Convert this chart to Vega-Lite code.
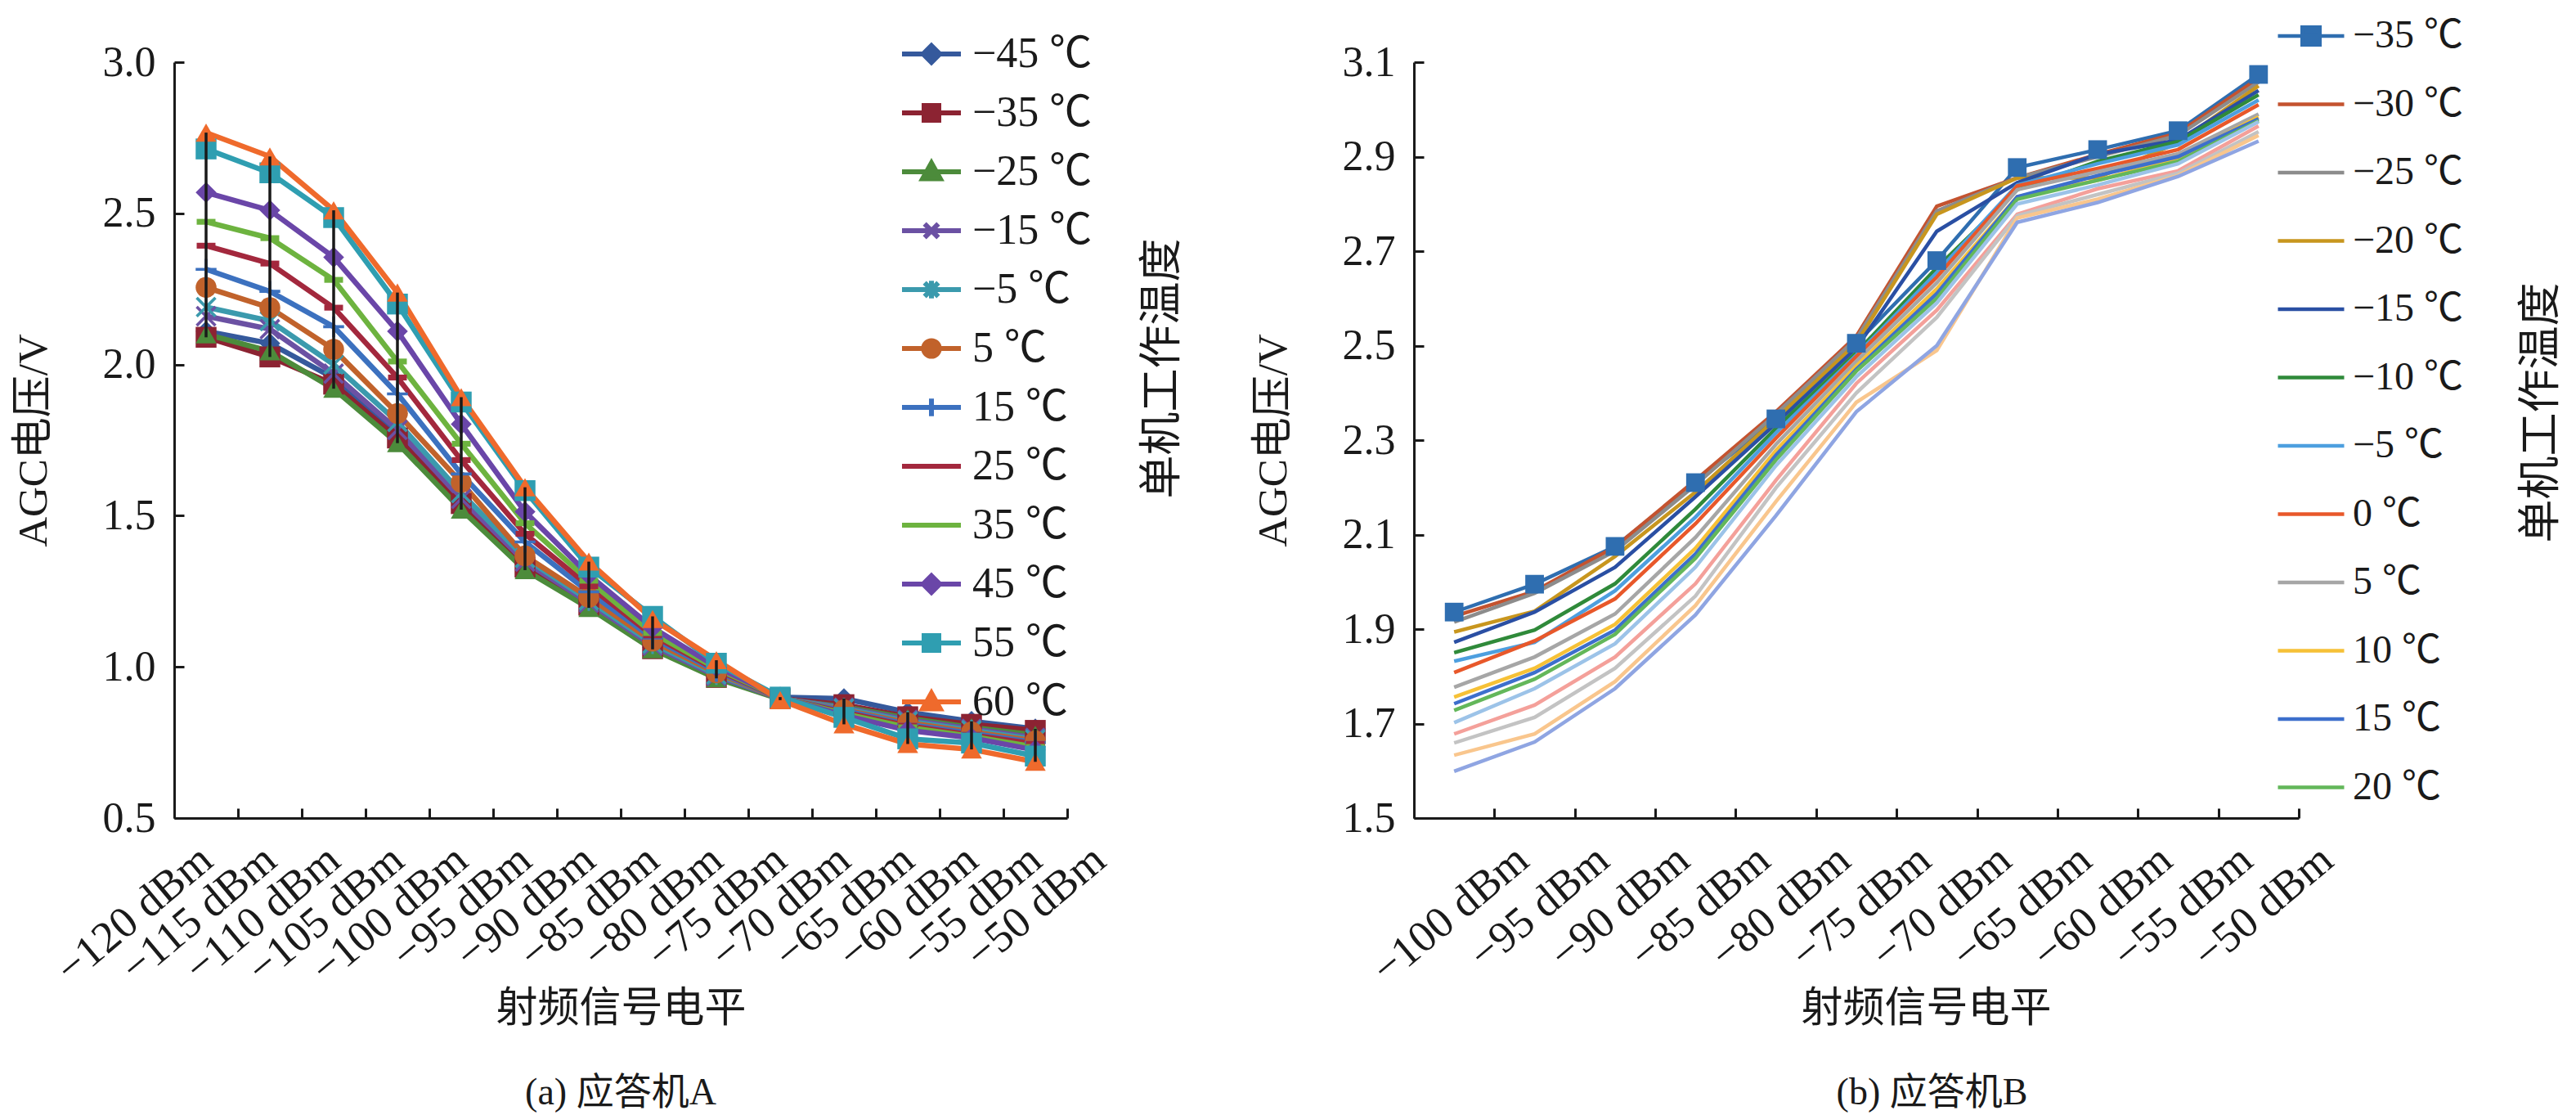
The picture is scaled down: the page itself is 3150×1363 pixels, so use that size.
{
  "$schema": "https://vega.github.io/schema/vega-lite/v6.json",
  "background": "white",
  "padding": {"left": 15, "top": 20, "right": 5, "bottom": 5},
  "spacing": 83,
  "resolve": {"scale": {"color": "independent", "shape": "independent"}, "legend": {"color": "independent", "shape": "independent"}},
  "config": {
    "view": {"stroke": null},
    "font": "Liberation Serif, Noto Sans CJK SC",
    "axis": {
      "domainColor": "#1a1a1a", "domainWidth": 3, "tickColor": "#1a1a1a", "tickWidth": 3, "tickSize": -12,
      "labelFont": "Liberation Serif, Noto Sans CJK SC", "labelFontSize": 52, "labelColor": "#1a1a1a", "labelPadding": 35, "labelLimit": 0,
      "titleFont": "Liberation Serif, Noto Sans CJK SC", "titleFontSize": 51, "titleFontWeight": "normal", "titleColor": "#1a1a1a",
      "grid": false
    },
    "legend": {"labelFont": "Liberation Serif, Noto Sans CJK SC", "labelColor": "#1a1a1a", "labelLimit": 0},
    "title": {"font": "Liberation Serif, Noto Sans CJK SC", "fontSize": 46, "fontWeight": "normal", "color": "#1a1a1a"}
  },
  "hconcat": [
    {
      "width": 1092,
      "height": 924,
      "title": {"text": "(a) 应答机A", "orient": "bottom", "anchor": "middle", "frame": "group", "offset": 56},
      "data": {"values": [
        {"t":"−45 ℃","x":-120,"v":2.11},{"t":"−45 ℃","x":-115,"v":2.07},{"t":"−45 ℃","x":-110,"v":1.955},{"t":"−45 ℃","x":-105,"v":1.765},{"t":"−45 ℃","x":-100,"v":1.548},{"t":"−45 ℃","x":-95,"v":1.34},{"t":"−45 ℃","x":-90,"v":1.21},{"t":"−45 ℃","x":-85,"v":1.065},{"t":"−45 ℃","x":-80,"v":0.97},{"t":"−45 ℃","x":-75,"v":0.9},{"t":"−45 ℃","x":-70,"v":0.895},{"t":"−45 ℃","x":-65,"v":0.85},{"t":"−45 ℃","x":-60,"v":0.82},{"t":"−45 ℃","x":-55,"v":0.795},
        {"t":"−35 ℃","x":-120,"v":2.09},{"t":"−35 ℃","x":-115,"v":2.025},{"t":"−35 ℃","x":-110,"v":1.935},{"t":"−35 ℃","x":-105,"v":1.757},{"t":"−35 ℃","x":-100,"v":1.54},{"t":"−35 ℃","x":-95,"v":1.33},{"t":"−35 ℃","x":-90,"v":1.204},{"t":"−35 ℃","x":-85,"v":1.06},{"t":"−35 ℃","x":-80,"v":0.965},{"t":"−35 ℃","x":-75,"v":0.895},{"t":"−35 ℃","x":-70,"v":0.875},{"t":"−35 ℃","x":-65,"v":0.835},{"t":"−35 ℃","x":-60,"v":0.81},{"t":"−35 ℃","x":-55,"v":0.79},
        {"t":"−25 ℃","x":-120,"v":2.1},{"t":"−25 ℃","x":-115,"v":2.044},{"t":"−25 ℃","x":-110,"v":1.92},{"t":"−25 ℃","x":-105,"v":1.74},{"t":"−25 ℃","x":-100,"v":1.52},{"t":"−25 ℃","x":-95,"v":1.32},{"t":"−25 ℃","x":-90,"v":1.195},{"t":"−25 ℃","x":-85,"v":1.058},{"t":"−25 ℃","x":-80,"v":0.962},{"t":"−25 ℃","x":-75,"v":0.893},{"t":"−25 ℃","x":-70,"v":0.868},{"t":"−25 ℃","x":-65,"v":0.83},{"t":"−25 ℃","x":-60,"v":0.8},{"t":"−25 ℃","x":-55,"v":0.775},
        {"t":"−15 ℃","x":-120,"v":2.16},{"t":"−15 ℃","x":-115,"v":2.117},{"t":"−15 ℃","x":-110,"v":1.97},{"t":"−15 ℃","x":-105,"v":1.784},{"t":"−15 ℃","x":-100,"v":1.556},{"t":"−15 ℃","x":-95,"v":1.348},{"t":"−15 ℃","x":-90,"v":1.212},{"t":"−15 ℃","x":-85,"v":1.07},{"t":"−15 ℃","x":-80,"v":0.97},{"t":"−15 ℃","x":-75,"v":0.895},{"t":"−15 ℃","x":-70,"v":0.865},{"t":"−15 ℃","x":-65,"v":0.825},{"t":"−15 ℃","x":-60,"v":0.795},{"t":"−15 ℃","x":-55,"v":0.765},
        {"t":"−5 ℃","x":-120,"v":2.19},{"t":"−5 ℃","x":-115,"v":2.144},{"t":"−5 ℃","x":-110,"v":2.0},{"t":"−5 ℃","x":-105,"v":1.81},{"t":"−5 ℃","x":-100,"v":1.575},{"t":"−5 ℃","x":-95,"v":1.36},{"t":"−5 ℃","x":-90,"v":1.22},{"t":"−5 ℃","x":-85,"v":1.077},{"t":"−5 ℃","x":-80,"v":0.975},{"t":"−5 ℃","x":-75,"v":0.896},{"t":"−5 ℃","x":-70,"v":0.862},{"t":"−5 ℃","x":-65,"v":0.82},{"t":"−5 ℃","x":-60,"v":0.79},{"t":"−5 ℃","x":-55,"v":0.76},
        {"t":"5 ℃","x":-120,"v":2.255},{"t":"5 ℃","x":-115,"v":2.188},{"t":"5 ℃","x":-110,"v":2.05},{"t":"5 ℃","x":-105,"v":1.838},{"t":"5 ℃","x":-100,"v":1.61},{"t":"5 ℃","x":-95,"v":1.367},{"t":"5 ℃","x":-90,"v":1.23},{"t":"5 ℃","x":-85,"v":1.085},{"t":"5 ℃","x":-80,"v":0.98},{"t":"5 ℃","x":-75,"v":0.895},{"t":"5 ℃","x":-70,"v":0.858},{"t":"5 ℃","x":-65,"v":0.815},{"t":"5 ℃","x":-60,"v":0.785},{"t":"5 ℃","x":-55,"v":0.755},
        {"t":"15 ℃","x":-120,"v":2.315},{"t":"15 ℃","x":-115,"v":2.242},{"t":"15 ℃","x":-110,"v":2.125},{"t":"15 ℃","x":-105,"v":1.903},{"t":"15 ℃","x":-100,"v":1.638},{"t":"15 ℃","x":-95,"v":1.413},{"t":"15 ℃","x":-90,"v":1.248},{"t":"15 ℃","x":-85,"v":1.095},{"t":"15 ℃","x":-80,"v":0.985},{"t":"15 ℃","x":-75,"v":0.896},{"t":"15 ℃","x":-70,"v":0.855},{"t":"15 ℃","x":-65,"v":0.81},{"t":"15 ℃","x":-60,"v":0.78},{"t":"15 ℃","x":-55,"v":0.75},
        {"t":"25 ℃","x":-120,"v":2.393},{"t":"25 ℃","x":-115,"v":2.334},{"t":"25 ℃","x":-110,"v":2.188},{"t":"25 ℃","x":-105,"v":1.957},{"t":"25 ℃","x":-100,"v":1.684},{"t":"25 ℃","x":-95,"v":1.44},{"t":"25 ℃","x":-90,"v":1.267},{"t":"25 ℃","x":-85,"v":1.104},{"t":"25 ℃","x":-80,"v":0.99},{"t":"25 ℃","x":-75,"v":0.897},{"t":"25 ℃","x":-70,"v":0.85},{"t":"25 ℃","x":-65,"v":0.805},{"t":"25 ℃","x":-60,"v":0.775},{"t":"25 ℃","x":-55,"v":0.745},
        {"t":"35 ℃","x":-120,"v":2.472},{"t":"35 ℃","x":-115,"v":2.418},{"t":"35 ℃","x":-110,"v":2.28},{"t":"35 ℃","x":-105,"v":2.01},{"t":"35 ℃","x":-100,"v":1.738},{"t":"35 ℃","x":-95,"v":1.475},{"t":"35 ℃","x":-90,"v":1.285},{"t":"35 ℃","x":-85,"v":1.112},{"t":"35 ℃","x":-80,"v":0.995},{"t":"35 ℃","x":-75,"v":0.898},{"t":"35 ℃","x":-70,"v":0.845},{"t":"35 ℃","x":-65,"v":0.8},{"t":"35 ℃","x":-60,"v":0.77},{"t":"35 ℃","x":-55,"v":0.735},
        {"t":"45 ℃","x":-120,"v":2.569},{"t":"45 ℃","x":-115,"v":2.51},{"t":"45 ℃","x":-110,"v":2.355},{"t":"45 ℃","x":-105,"v":2.11},{"t":"45 ℃","x":-100,"v":1.803},{"t":"45 ℃","x":-95,"v":1.513},{"t":"45 ℃","x":-90,"v":1.304},{"t":"45 ℃","x":-85,"v":1.13},{"t":"45 ℃","x":-80,"v":1.0},{"t":"45 ℃","x":-75,"v":0.899},{"t":"45 ℃","x":-70,"v":0.84},{"t":"45 ℃","x":-65,"v":0.79},{"t":"45 ℃","x":-60,"v":0.765},{"t":"45 ℃","x":-55,"v":0.725},
        {"t":"55 ℃","x":-120,"v":2.713},{"t":"55 ℃","x":-115,"v":2.634},{"t":"55 ℃","x":-110,"v":2.486},{"t":"55 ℃","x":-105,"v":2.2},{"t":"55 ℃","x":-100,"v":1.876},{"t":"55 ℃","x":-95,"v":1.583},{"t":"55 ℃","x":-90,"v":1.33},{"t":"55 ℃","x":-85,"v":1.167},{"t":"55 ℃","x":-80,"v":1.012},{"t":"55 ℃","x":-75,"v":0.9},{"t":"55 ℃","x":-70,"v":0.833},{"t":"55 ℃","x":-65,"v":0.762},{"t":"55 ℃","x":-60,"v":0.748},{"t":"55 ℃","x":-55,"v":0.705},
        {"t":"60 ℃","x":-120,"v":2.767},{"t":"60 ℃","x":-115,"v":2.688},{"t":"60 ℃","x":-110,"v":2.51},{"t":"60 ℃","x":-105,"v":2.238},{"t":"60 ℃","x":-100,"v":1.892},{"t":"60 ℃","x":-95,"v":1.594},{"t":"60 ℃","x":-90,"v":1.348},{"t":"60 ℃","x":-85,"v":1.158},{"t":"60 ℃","x":-80,"v":1.022},{"t":"60 ℃","x":-75,"v":0.89},{"t":"60 ℃","x":-70,"v":0.81},{"t":"60 ℃","x":-65,"v":0.745},{"t":"60 ℃","x":-60,"v":0.727},{"t":"60 ℃","x":-55,"v":0.686}
      ]},
      "layer": [
        {
          "mark": {"type": "line", "strokeWidth": 6.5},
          "encoding": {
            "x": {
              "field": "x", "type": "quantitative",
              "scale": {"domain": [-122.5, -52.5], "nice": false, "zero": false},
              "axis": {
                "values": [-122.5, -117.5, -112.5, -107.5, -102.5, -97.5, -92.5, -87.5, -82.5, -77.5, -72.5, -67.5, -62.5, -57.5, -52.5],
                "labelExpr": "'−' + format(-2.5 - datum.value, 'd') + ' dBm'",
                "labelAngle": -40, "labelAlign": "right", "labelBaseline": "top", "labelOffset": 22,
                "labelOverlap": false, "labelFlush": false, "labelBound": false, "labelFontSize": 54,
                "title": "射频信号电平", "titlePadding": 8
              }
            },
            "y": {
              "field": "v", "type": "quantitative",
              "scale": {"domain": [0.5, 3.0], "nice": false, "zero": false},
              "axis": {"orient": "left", "values": [0.5, 1.0, 1.5, 2.0, 2.5, 3.0], "format": ".1f", "title": "AGC电压/V", "titlePadding": 58}
            },
            "color": {
              "field": "t", "type": "nominal",
              "scale": {
                "domain": ["−45 ℃", "−35 ℃", "−25 ℃", "−15 ℃", "−5 ℃", "5 ℃", "15 ℃", "25 ℃", "35 ℃", "45 ℃", "55 ℃", "60 ℃"],
                "range": ["#35599C", "#8C2332", "#4C8B3B", "#6B51A3", "#3B9AAD", "#C1622B", "#3C71BF", "#A3283D", "#6DB33F", "#6A46A8", "#2F9EB1", "#EF6A2C"]
              },
              "legend": {
                "orient": "none", "legendX": 924, "legendY": -36, "title": null, "padding": 0,
                "symbolSize": 576, "symbolStrokeWidth": 6, "labelFontSize": 52, "labelOffset": 0, "rowPadding": 20,
                "encode": {"symbols": {"update": {
                  "shape": {"signal": "['M-5,0H1M-2,-0.85L-1.15,0L-2,0.85L-2.85,0Z','M-5,0H1M-2.75,-0.75H-1.25V0.75H-2.75Z','M-5,0H1M-2,-0.9L-1.1,0.7H-2.9Z','M-5,0H1M-2.7,-0.7L-1.3,0.7M-2.7,0.7L-1.3,-0.7','M-5,0H1M-2.7,-0.7L-1.3,0.7M-2.7,0.7L-1.3,-0.7M-2,-0.9V0.9','M-5,0H1M-2.8,0A0.8,0.8,0,1,1,-1.2,0A0.8,0.8,0,1,1,-2.8,0Z','M-5,0H1M-2,-0.9V0.9','M-5,0H1','M-5,0H1','M-5,0H1M-2,-0.85L-1.15,0L-2,0.85L-2.85,0Z','M-5,0H1M-2.75,-0.75H-1.25V0.75H-2.75Z','M-5,0H1M-2,-0.9L-1.1,0.7H-2.9Z'][indexof(['−45 ℃','−35 ℃','−25 ℃','−15 ℃','−5 ℃','5 ℃','15 ℃','25 ℃','35 ℃','45 ℃','55 ℃','60 ℃'], datum.value)]"},
                  "fill": {"signal": "['#35599C','#8C2332','#4C8B3B','#6B51A3','#3B9AAD','#C1622B','#3C71BF','#A3283D','#6DB33F','#6A46A8','#2F9EB1','#EF6A2C'][indexof(['−45 ℃','−35 ℃','−25 ℃','−15 ℃','−5 ℃','5 ℃','15 ℃','25 ℃','35 ℃','45 ℃','55 ℃','60 ℃'], datum.value)]"},
                  "stroke": {"signal": "['#35599C','#8C2332','#4C8B3B','#6B51A3','#3B9AAD','#C1622B','#3C71BF','#A3283D','#6DB33F','#6A46A8','#2F9EB1','#EF6A2C'][indexof(['−45 ℃','−35 ℃','−25 ℃','−15 ℃','−5 ℃','5 ℃','15 ℃','25 ℃','35 ℃','45 ℃','55 ℃','60 ℃'], datum.value)]"},
                  "size": {"value": 576},
                  "strokeWidth": {"value": 6},
                  "opacity": {"value": 1}
                }}}
              }
            }
          }
        },
        {
          "transform": [{"calculate": "datum.t", "as": "marker"}],
          "mark": {"type": "point", "filled": true, "opacity": 1, "size": 650, "strokeWidth": 0},
          "encoding": {
            "x": {"field": "x", "type": "quantitative"},
            "y": {"field": "v", "type": "quantitative", "axis": null},
            "color": {"field": "t", "type": "nominal"},
            "shape": {
              "field": "marker", "type": "nominal", "legend": null, "sort": null,
              "scale": {
                "range": [
                  "diamond", "square", "triangle-up",
                  "M-1,-0.8L-0.8,-1L0,-0.2L0.8,-1L1,-0.8L0.2,0L1,0.8L0.8,1L0,0.2L-0.8,1L-1,0.8L-0.2,0Z",
                  "M-1,-0.8L-0.8,-1L0,-0.2L0.8,-1L1,-0.8L0.2,0L1,0.8L0.8,1L0,0.2L-0.8,1L-1,0.8L-0.2,0ZM-0.12,-1H0.12V1H-0.12Z",
                  "circle",
                  "M-0.14,-1H0.14V-0.14H1V0.14H0.14V1H-0.14V0.14H-1V-0.14H-0.14Z",
                  "M-0.9,-0.28H0.9V0.28H-0.9Z",
                  "M-0.9,-0.28H0.9V0.28H-0.9Z",
                  "diamond", "square", "triangle-up"
                ]
              }
            }
          }
        },
        {
          "mark": {"type": "rule", "color": "#1a1a1a", "strokeWidth": 3.5},
          "encoding": {
            "x": {"field": "x", "type": "quantitative"},
            "y": {
              "aggregate": "min", "field": "v", "type": "quantitative",
              "axis": {"orient": "right", "title": "单机工作温度", "labels": false, "ticks": false, "domain": false,
                       "titleAngle": 270, "titleBaseline": "top", "titleAlign": "center", "titleY": 374, "titlePadding": 90, "titleFontSize": 53}
            },
            "y2": {"aggregate": "max", "field": "v"}
          }
        }
      ],
      "resolve": {"axis": {"y": "independent"}}
    },
    {
      "width": 1082,
      "height": 924,
      "title": {"text": "(b) 应答机B", "orient": "bottom", "anchor": "middle", "frame": "bounds", "offset": 56, "dx": 30},
      "data": {"values": [
        {"t":"−35 ℃","x":-100,"v":1.936},{"t":"−35 ℃","x":-95,"v":1.995},{"t":"−35 ℃","x":-90,"v":2.075},{"t":"−35 ℃","x":-85,"v":2.21},{"t":"−35 ℃","x":-80,"v":2.345},{"t":"−35 ℃","x":-75,"v":2.505},{"t":"−35 ℃","x":-70,"v":2.68},{"t":"−35 ℃","x":-65,"v":2.877},{"t":"−35 ℃","x":-60,"v":2.915},{"t":"−35 ℃","x":-55,"v":2.955},{"t":"−35 ℃","x":-50,"v":3.074},
        {"t":"−30 ℃","x":-100,"v":1.927},{"t":"−30 ℃","x":-95,"v":1.98},{"t":"−30 ℃","x":-90,"v":2.074},{"t":"−30 ℃","x":-85,"v":2.215},{"t":"−30 ℃","x":-80,"v":2.36},{"t":"−30 ℃","x":-75,"v":2.52},{"t":"−30 ℃","x":-70,"v":2.795},{"t":"−30 ℃","x":-65,"v":2.855},{"t":"−30 ℃","x":-60,"v":2.905},{"t":"−30 ℃","x":-55,"v":2.95},{"t":"−30 ℃","x":-50,"v":3.066},
        {"t":"−25 ℃","x":-100,"v":1.915},{"t":"−25 ℃","x":-95,"v":1.976},{"t":"−25 ℃","x":-90,"v":2.065},{"t":"−25 ℃","x":-85,"v":2.205},{"t":"−25 ℃","x":-80,"v":2.355},{"t":"−25 ℃","x":-75,"v":2.515},{"t":"−25 ℃","x":-70,"v":2.785},{"t":"−25 ℃","x":-65,"v":2.855},{"t":"−25 ℃","x":-60,"v":2.9},{"t":"−25 ℃","x":-55,"v":2.945},{"t":"−25 ℃","x":-50,"v":3.058},
        {"t":"−20 ℃","x":-100,"v":1.894},{"t":"−20 ℃","x":-95,"v":1.938},{"t":"−20 ℃","x":-90,"v":2.054},{"t":"−20 ℃","x":-85,"v":2.19},{"t":"−20 ℃","x":-80,"v":2.345},{"t":"−20 ℃","x":-75,"v":2.505},{"t":"−20 ℃","x":-70,"v":2.778},{"t":"−20 ℃","x":-65,"v":2.855},{"t":"−20 ℃","x":-60,"v":2.855},{"t":"−20 ℃","x":-55,"v":2.93},{"t":"−20 ℃","x":-50,"v":3.05},
        {"t":"−15 ℃","x":-100,"v":1.872},{"t":"−15 ℃","x":-95,"v":1.936},{"t":"−15 ℃","x":-90,"v":2.031},{"t":"−15 ℃","x":-85,"v":2.18},{"t":"−15 ℃","x":-80,"v":2.335},{"t":"−15 ℃","x":-75,"v":2.495},{"t":"−15 ℃","x":-70,"v":2.742},{"t":"−15 ℃","x":-65,"v":2.845},{"t":"−15 ℃","x":-60,"v":2.905},{"t":"−15 ℃","x":-55,"v":2.935},{"t":"−15 ℃","x":-50,"v":3.04},
        {"t":"−10 ℃","x":-100,"v":1.85},{"t":"−10 ℃","x":-95,"v":1.898},{"t":"−10 ℃","x":-90,"v":1.996},{"t":"−10 ℃","x":-85,"v":2.154},{"t":"−10 ℃","x":-80,"v":2.325},{"t":"−10 ℃","x":-75,"v":2.485},{"t":"−10 ℃","x":-70,"v":2.665},{"t":"−10 ℃","x":-65,"v":2.83},{"t":"−10 ℃","x":-60,"v":2.89},{"t":"−10 ℃","x":-55,"v":2.932},{"t":"−10 ℃","x":-50,"v":3.031},
        {"t":"−5 ℃","x":-100,"v":1.832},{"t":"−5 ℃","x":-95,"v":1.872},{"t":"−5 ℃","x":-90,"v":1.981},{"t":"−5 ℃","x":-85,"v":2.137},{"t":"−5 ℃","x":-80,"v":2.315},{"t":"−5 ℃","x":-75,"v":2.48},{"t":"−5 ℃","x":-70,"v":2.655},{"t":"−5 ℃","x":-65,"v":2.84},{"t":"−5 ℃","x":-60,"v":2.885},{"t":"−5 ℃","x":-55,"v":2.925},{"t":"−5 ℃","x":-50,"v":3.02},
        {"t":"0 ℃","x":-100,"v":1.808},{"t":"0 ℃","x":-95,"v":1.875},{"t":"0 ℃","x":-90,"v":1.964},{"t":"0 ℃","x":-85,"v":2.123},{"t":"0 ℃","x":-80,"v":2.304},{"t":"0 ℃","x":-75,"v":2.477},{"t":"0 ℃","x":-70,"v":2.645},{"t":"0 ℃","x":-65,"v":2.838},{"t":"0 ℃","x":-60,"v":2.875},{"t":"0 ℃","x":-55,"v":2.915},{"t":"0 ℃","x":-50,"v":3.01},
        {"t":"5 ℃","x":-100,"v":1.777},{"t":"5 ℃","x":-95,"v":1.841},{"t":"5 ℃","x":-90,"v":1.932},{"t":"5 ℃","x":-85,"v":2.094},{"t":"5 ℃","x":-80,"v":2.291},{"t":"5 ℃","x":-75,"v":2.467},{"t":"5 ℃","x":-70,"v":2.633},{"t":"5 ℃","x":-65,"v":2.83},{"t":"5 ℃","x":-60,"v":2.868},{"t":"5 ℃","x":-55,"v":2.906},{"t":"5 ℃","x":-50,"v":2.99},
        {"t":"10 ℃","x":-100,"v":1.756},{"t":"10 ℃","x":-95,"v":1.817},{"t":"10 ℃","x":-90,"v":1.91},{"t":"10 ℃","x":-85,"v":2.071},{"t":"10 ℃","x":-80,"v":2.278},{"t":"10 ℃","x":-75,"v":2.457},{"t":"10 ℃","x":-70,"v":2.62},{"t":"10 ℃","x":-65,"v":2.815},{"t":"10 ℃","x":-60,"v":2.85},{"t":"10 ℃","x":-55,"v":2.896},{"t":"10 ℃","x":-50,"v":2.984},
        {"t":"15 ℃","x":-100,"v":1.742},{"t":"15 ℃","x":-95,"v":1.808},{"t":"15 ℃","x":-90,"v":1.898},{"t":"15 ℃","x":-85,"v":2.059},{"t":"15 ℃","x":-80,"v":2.268},{"t":"15 ℃","x":-75,"v":2.45},{"t":"15 ℃","x":-70,"v":2.61},{"t":"15 ℃","x":-65,"v":2.815},{"t":"15 ℃","x":-60,"v":2.86},{"t":"15 ℃","x":-55,"v":2.9},{"t":"15 ℃","x":-50,"v":2.98},
        {"t":"20 ℃","x":-100,"v":1.728},{"t":"20 ℃","x":-95,"v":1.794},{"t":"20 ℃","x":-90,"v":1.889},{"t":"20 ℃","x":-85,"v":2.05},{"t":"20 ℃","x":-80,"v":2.258},{"t":"20 ℃","x":-75,"v":2.446},{"t":"20 ℃","x":-70,"v":2.6},{"t":"20 ℃","x":-65,"v":2.81},{"t":"20 ℃","x":-60,"v":2.85},{"t":"20 ℃","x":-55,"v":2.89},{"t":"20 ℃","x":-50,"v":2.976},
        {"t":"25 ℃","x":-100,"v":1.702},{"t":"25 ℃","x":-95,"v":1.774},{"t":"25 ℃","x":-90,"v":1.869},{"t":"25 ℃","x":-85,"v":2.031},{"t":"25 ℃","x":-80,"v":2.246},{"t":"25 ℃","x":-75,"v":2.434},{"t":"25 ℃","x":-70,"v":2.59},{"t":"25 ℃","x":-65,"v":2.8},{"t":"25 ℃","x":-60,"v":2.84},{"t":"25 ℃","x":-55,"v":2.885},{"t":"25 ℃","x":-50,"v":2.974},
        {"t":"30 ℃","x":-100,"v":1.678},{"t":"30 ℃","x":-95,"v":1.739},{"t":"30 ℃","x":-90,"v":1.841},{"t":"30 ℃","x":-85,"v":1.996},{"t":"30 ℃","x":-80,"v":2.215},{"t":"30 ℃","x":-75,"v":2.42},{"t":"30 ℃","x":-70,"v":2.575},{"t":"30 ℃","x":-65,"v":2.778},{"t":"30 ℃","x":-60,"v":2.832},{"t":"30 ℃","x":-55,"v":2.87},{"t":"30 ℃","x":-50,"v":2.965},
        {"t":"35 ℃","x":-100,"v":1.659},{"t":"35 ℃","x":-95,"v":1.713},{"t":"35 ℃","x":-90,"v":1.817},{"t":"35 ℃","x":-85,"v":1.97},{"t":"35 ℃","x":-80,"v":2.199},{"t":"35 ℃","x":-75,"v":2.4},{"t":"35 ℃","x":-70,"v":2.56},{"t":"35 ℃","x":-65,"v":2.775},{"t":"35 ℃","x":-60,"v":2.82},{"t":"35 ℃","x":-55,"v":2.865},{"t":"35 ℃","x":-50,"v":2.953},
        {"t":"40 ℃","x":-100,"v":1.633},{"t":"40 ℃","x":-95,"v":1.678},{"t":"40 ℃","x":-90,"v":1.789},{"t":"40 ℃","x":-85,"v":1.95},{"t":"40 ℃","x":-80,"v":2.17},{"t":"40 ℃","x":-75,"v":2.38},{"t":"40 ℃","x":-70,"v":2.49},{"t":"40 ℃","x":-65,"v":2.77},{"t":"40 ℃","x":-60,"v":2.81},{"t":"40 ℃","x":-55,"v":2.86},{"t":"40 ℃","x":-50,"v":2.945},
        {"t":"45 ℃","x":-100,"v":1.599},{"t":"45 ℃","x":-95,"v":1.661},{"t":"45 ℃","x":-90,"v":1.774},{"t":"45 ℃","x":-85,"v":1.93},{"t":"45 ℃","x":-80,"v":2.14},{"t":"45 ℃","x":-75,"v":2.36},{"t":"45 ℃","x":-70,"v":2.5},{"t":"45 ℃","x":-65,"v":2.761},{"t":"45 ℃","x":-60,"v":2.803},{"t":"45 ℃","x":-55,"v":2.858},{"t":"45 ℃","x":-50,"v":2.933}
      ]},
      "layer": [
        {
          "mark": {"type": "line", "strokeWidth": 4.5},
          "encoding": {
            "x": {
              "field": "x", "type": "quantitative",
              "scale": {"domain": [-102.5, -47.5], "nice": false, "zero": false},
              "axis": {
                "values": [-102.5, -97.5, -92.5, -87.5, -82.5, -77.5, -72.5, -67.5, -62.5, -57.5, -52.5, -47.5],
                "labelExpr": "datum.value < -100 ? '' : '−' + format(2.5 - datum.value, 'd') + ' dBm'",
                "labelAngle": -40, "labelAlign": "right", "labelBaseline": "top", "labelOffset": 17,
                "labelOverlap": false, "labelFlush": false, "labelBound": false, "labelFontSize": 54,
                "title": "射频信号电平", "titlePadding": 8, "titleX": 626
              }
            },
            "y": {
              "field": "v", "type": "quantitative",
              "scale": {"domain": [1.5, 3.1], "nice": false, "zero": false},
              "axis": {"orient": "left", "values": [1.5, 1.7, 1.9, 2.1, 2.3, 2.5, 2.7, 2.9, 3.1], "format": ".1f", "title": "AGC电压/V", "titlePadding": 58}
            },
            "color": {
              "field": "t", "type": "nominal",
              "scale": {
                "domain": ["−35 ℃", "−30 ℃", "−25 ℃", "−20 ℃", "−15 ℃", "−10 ℃", "−5 ℃", "0 ℃", "5 ℃", "10 ℃", "15 ℃", "20 ℃", "25 ℃", "30 ℃", "35 ℃", "40 ℃", "45 ℃"],
                "range": ["#2F6EB0", "#C4532F", "#8C8C8C", "#C8961E", "#2A4FA3", "#2F8A3A", "#4D9FDF", "#E8582A", "#A6A6A6", "#F6C137", "#3D6FCC", "#63B75A", "#9CC3E8", "#F4A09A", "#C3C3C3", "#F9C68D", "#8FA5E2"]
              },
              "legend": {
                "orient": "none", "legendX": 1100, "legendY": -56, "title": null, "padding": 0,
                "values": ["−35 ℃", "−30 ℃", "−25 ℃", "−20 ℃", "−15 ℃", "−10 ℃", "−5 ℃", "0 ℃", "5 ℃", "10 ℃", "15 ℃", "20 ℃"],
                "symbolSize": 729, "symbolStrokeWidth": 4.5, "labelFontSize": 48, "labelOffset": 0, "rowPadding": 35.5,
                "encode": {"symbols": {"update": {
                  "shape": {"signal": "datum.value === '−35 ℃' ? 'M-5,0H1M-2.8,-0.8H-1.2V0.8H-2.8Z' : 'M-5,0H1'"},
                  "fill": {"signal": "datum.value === '−35 ℃' ? '#2F6EB0' : 'transparent'"},
                  "stroke": {"signal": "['#2F6EB0','#C4532F','#8C8C8C','#C8961E','#2A4FA3','#2F8A3A','#4D9FDF','#E8582A','#A6A6A6','#F6C137','#3D6FCC','#63B75A'][indexof(['−35 ℃','−30 ℃','−25 ℃','−20 ℃','−15 ℃','−10 ℃','−5 ℃','0 ℃','5 ℃','10 ℃','15 ℃','20 ℃'], datum.value)]"},
                  "size": {"value": 729},
                  "strokeWidth": {"value": 4.5},
                  "opacity": {"value": 1}
                }}}
              }
            }
          }
        },
        {
          "transform": [{"filter": "datum.t === '−35 ℃'"}],
          "mark": {"type": "square", "size": 520, "color": "#2F6EB0", "opacity": 1},
          "encoding": {
            "x": {"field": "x", "type": "quantitative"},
            "y": {
              "field": "v", "type": "quantitative",
              "axis": {"orient": "right", "title": "单机工作温度", "labels": false, "ticks": false, "domain": false,
                       "titleAngle": 270, "titleBaseline": "top", "titleAlign": "center", "titleY": 428, "titlePadding": 270, "titleFontSize": 53}
            }
          }
        }
      ],
      "resolve": {"axis": {"y": "independent"}}
    }
  ]
}
